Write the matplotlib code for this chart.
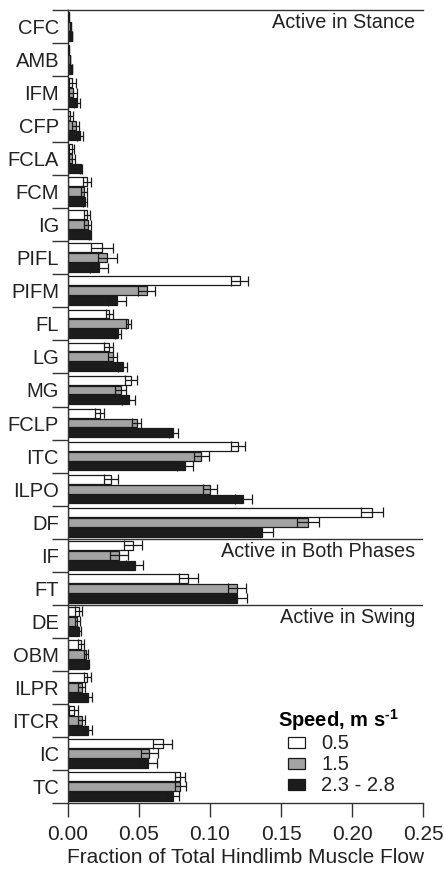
import numpy as np
import matplotlib
matplotlib.use("Agg")
import matplotlib.pyplot as plt
from matplotlib.patches import Patch

plt.rcParams['font.family'] = ['Liberation Sans', 'DejaVu Sans']
plt.rcParams['mathtext.fontset'] = 'custom'
plt.rcParams['mathtext.rm'] = 'Liberation Sans:bold'
plt.rcParams['mathtext.bf'] = 'Liberation Sans:bold'

muscles = ["CFC", "AMB", "IFM", "CFP", "FCLA", "FCM", "IG", "PIFL", "PIFM", "FL",
           "LG", "MG", "FCLP", "ITC", "ILPO", "DF", "IF", "FT", "DE", "OBM",
           "ILPR", "ITCR", "IC", "TC"]

# speed 0.5 m/s
slow = [0.0005, 0.0005, 0.003, 0.0014, 0.0025, 0.0131, 0.0136, 0.0237, 0.121, 0.029,
        0.0286, 0.0444, 0.0223, 0.1195, 0.030, 0.214, 0.046, 0.0847, 0.0077, 0.0092,
        0.0136, 0.004, 0.0667, 0.0789]
slow_err = [0.0003, 0.0003, 0.0025, 0.002, 0.002, 0.0028, 0.002, 0.0077, 0.006, 0.0025,
            0.0032, 0.004, 0.0033, 0.005, 0.005, 0.0075, 0.0063, 0.0065, 0.0025, 0.002,
            0.0024, 0.003, 0.0066, 0.0037]
# speed 1.5 m/s
mid = [0.002, 0.0014, 0.0035, 0.0055, 0.0028, 0.0113, 0.014, 0.0277, 0.0554, 0.0425,
       0.0315, 0.037, 0.0484, 0.094, 0.100, 0.169, 0.0359, 0.119, 0.0066, 0.0127,
       0.0096, 0.0096, 0.0573, 0.079]
mid_err = [0.0003, 0.0003, 0.0025, 0.0025, 0.0022, 0.002, 0.0025, 0.0066, 0.0058, 0.002,
           0.0032, 0.004, 0.0033, 0.005, 0.005, 0.0075, 0.0063, 0.0065, 0.002, 0.0017,
           0.0025, 0.0024, 0.006, 0.004]
# speed 2.3 - 2.8 m/s
fast = [0.0028, 0.0028, 0.0061, 0.0085, 0.009, 0.012, 0.0155, 0.0218, 0.0343, 0.0354,
        0.0385, 0.0427, 0.0742, 0.0826, 0.1235, 0.1366, 0.047, 0.119, 0.008, 0.0138,
        0.0143, 0.0143, 0.0566, 0.0737]
fast_err = [0.0003, 0.0003, 0.002, 0.002, 0.0008, 0.0013, 0.001, 0.0066, 0.0063, 0.002,
            0.0033, 0.0045, 0.003, 0.0056, 0.006, 0.0075, 0.006, 0.007, 0.001, 0.0012,
            0.0024, 0.0028, 0.0063, 0.0045]

speed_labels = ["0.5", "1.5", "2.3 - 2.8"]
colors = ["white", "#a3a3a3", "#1c1c1c"]
# group boundaries (stance | both | swing)
sections = [("Active in Stance", 0), ("Active in Both Phases", 16), ("Active in Swing", 18)]

fig = plt.figure(figsize=(4.44, 8.73), dpi=100)
ax = fig.add_axes([68 / 444, 1 - 803 / 873, 355 / 444, 793 / 873])

centers = np.arange(len(muscles)) + 0.5
offsets = [-0.3, 0.0, 0.3]
series = [(slow, slow_err), (mid, mid_err), (fast, fast_err)]
for (vals, errs), off, col in zip(series, offsets, colors):
    ax.barh(centers + off, vals, height=0.27, color=col, edgecolor="#1a1a1a",
            linewidth=0.9, zorder=2)
    ax.errorbar(vals, centers + off, xerr=errs, fmt="none", ecolor="#1a1a1a",
                elinewidth=0.9, capsize=3.5, capthick=0.9, zorder=3)

ax.set_xlim(0, 0.25)
ax.set_ylim(len(muscles), 0)

for name, y in sections:
    if y > 0:
        ax.axhline(y, color="#333333", linewidth=1.0, zorder=1)
    ax.text(0.2445, y + 0.38, name, ha="right", va="center", fontsize=14.3,
            color="#222222")

ax.set_yticks(centers)
ax.set_yticklabels(muscles, fontsize=14.5, color="#222222")
ax.set_yticks(np.arange(0, len(muscles) + 1), minor=True)
ax.tick_params(axis="y", which="major", length=0, pad=6.5)
ax.tick_params(axis="y", which="minor", length=11.5, width=1.0, color="#333333")

ax.set_xticks([0, 0.05, 0.10, 0.15, 0.20, 0.25])
ax.set_xticklabels(["0.00", "0.05", "0.10", "0.15", "0.20", "0.25"])
ax.tick_params(axis="x", length=10, width=1.0, pad=6, labelsize=15,
               labelcolor="#222222", color="#333333")
ax.set_xlabel("Fraction of Total Hindlimb Muscle Flow", fontsize=15,
              color="#222222", labelpad=3)

ax.spines["right"].set_visible(False)
for s in ["top", "left", "bottom"]:
    ax.spines[s].set_linewidth(1.0)
    ax.spines[s].set_color("#333333")

handles = [Patch(facecolor=c, edgecolor="#1a1a1a", linewidth=0.9) for c in colors]
leg = ax.legend(handles, speed_labels, title=r"Speed, m s$^{\text{-1}}$",
                loc="upper left", bbox_to_anchor=(0.5915, 0.121), frameon=False,
                fontsize=14.5, handlelength=0.85, handleheight=0.45,
                handletextpad=1.3, labelspacing=0.1, borderaxespad=0,
                borderpad=0, alignment="left",
                title_fontproperties={"weight": "bold", "size": 14.5})
for t in leg.get_texts():
    t.set_color("#222222")
leg._legend_box.sep = 1
for h in leg.legend_handles:
    h.set_x(h.get_x() + 7.2)

fig.savefig("out.png", dpi=100)
